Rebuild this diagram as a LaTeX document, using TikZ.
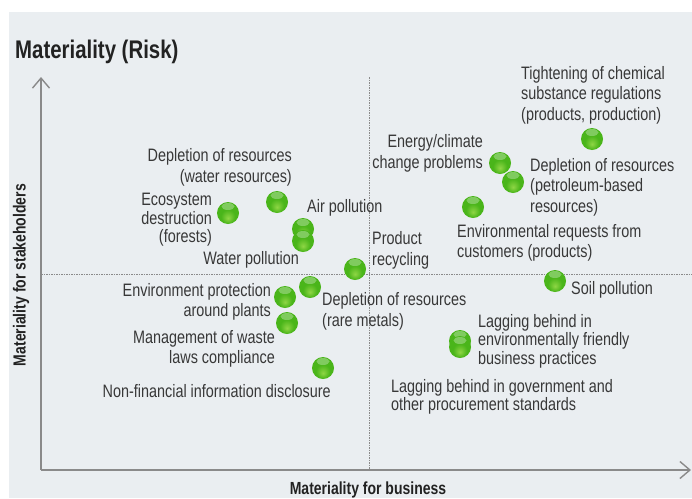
\documentclass[tikz,border=0pt]{standalone}
\usepackage{fontspec}
\setmainfont{Liberation Sans}[FakeStretch=0.8]
\usetikzlibrary{arrows.meta}
\definecolor{bgc}{HTML}{EAEEF1}
\definecolor{txt}{HTML}{383838}
\definecolor{ttl}{HTML}{222222}
\definecolor{axc}{HTML}{8A8A8A}
\definecolor{gA}{HTML}{8FD645}
\definecolor{gB}{HTML}{4AB51A}
\definecolor{gC}{HTML}{2A8A0E}
\pgfdeclareradialshading{gball}{\pgfpoint{0bp}{-12bp}}{color(0bp)=(gA); color(16bp)=(gB); color(38bp)=(gB); color(50bp)=(gC)}
\begin{document}
\begin{tikzpicture}[x=1pt,y=-1pt,
  lbl/.style={inner sep=0pt, text=txt, font=\fontsize{18}{20.5}\selectfont},
  lbltight/.style={inner sep=0pt, text=txt, font=\fontsize{18}{18.5}\selectfont},
  axlbl/.style={inner sep=0pt, text=ttl, font=\fontsize{17.5}{20}\selectfont\bfseries},
  gdot/.style={circle, minimum size=22pt, inner sep=0pt, shading=gball,
    path picture={\fill[white,opacity=0.3] ([yshift=6.5pt]path picture bounding box.center) ellipse (6.5pt and 3.5pt);}},
  axline/.style={axc, line width=1.6pt, -{Straight Barb[length=10pt,width=17pt,line width=1.4pt]}},
  dline/.style={axc, line width=0.9pt, dash pattern=on 1.5pt off 1pt}]
\useasboundingbox (0,0) rectangle (692,498);
\fill[bgc] (9,12) rectangle (692,498);
% axes
\coordinate (O) at (41,470);
\coordinate (ytop) at (41,77);
\coordinate (xend) at (691,470);
\coordinate (vd1) at (369,77);
\coordinate (vd2) at (369,470);
\coordinate (hd1) at (41,274);
\coordinate (hd2) at (692,274);
\draw[dline] (vd1) -- (vd2);
\draw[dline] (hd1) -- (hd2);
\draw[axline] (O) -- (ytop);
\draw[axline] (O) -- (xend);
% titles
\node[inner sep=0pt, text=ttl, font=\fontsize{25.5}{28}\selectfont\bfseries, anchor=west] (title) at (15,52) {Materiality (Risk)};
\node[axlbl] (xlab) at (368,490) {Materiality for business};
\node[axlbl, rotate=90] (ylab) at (21,275) {Materiality for stakeholders};
% dots
\node[gdot] (d1) at (592,139) {};
\node[gdot] (d2) at (500,163) {};
\node[gdot] (d3) at (513,182) {};
\node[gdot] (d4) at (473,207) {};
\node[gdot] (d5) at (277,202) {};
\node[gdot] (d6) at (228,213) {};
\node[gdot] (d7) at (303,229) {};
\node[gdot] (d8) at (303,241) {};
\node[gdot] (d9) at (355,269) {};
\node[gdot] (d10) at (555,281) {};
\node[gdot] (d11) at (310,287) {};
\node[gdot] (d12) at (285,297) {};
\node[gdot] (d13) at (287,323) {};
\node[gdot] (d14) at (323,368) {};
\node[gdot] (d15) at (460,341) {};
\node[gdot] (d16) at (460,347) {};
% labels
\node[lbl, align=left, anchor=west] (t1) at (521,95) {Tightening of chemical\\substance regulations\\(products, production)};
\node[lbl, align=right, anchor=east] (t2) at (483,153.5) {Energy/climate\\change problems};
\node[lbl, align=left, anchor=west] (t3) at (530,187) {Depletion of resources\\(petroleum-based\\resources)};
\node[lbl, align=left, anchor=west] (t4) at (457,243) {Environmental requests from\\customers (products)};
\node[lbl, align=right, anchor=east] (t5) at (292,167.5) {Depletion of resources\\(water resources)};
\node[lbltight, align=right, anchor=east] (t6) at (212,220) {Ecosystem\\destruction\\(forests)};
\node[lbl, anchor=west] (t7) at (307,208) {Air pollution};
\node[lbl, anchor=east] (t8) at (299,260) {Water pollution};
\node[lbl, align=left, anchor=west] (t9) at (372,250.5) {Product\\recycling};
\node[lbl, anchor=west] (t10) at (571,290) {Soil pollution};
\node[lbl, align=left, anchor=west] (t11) at (322,311.5) {Depletion of resources\\(rare metals)};
\node[lbl, align=right, anchor=east] (t12) at (271,302) {Environment protection\\around plants};
\node[lbl, align=right, anchor=east] (t13) at (275,349) {Management of waste\\laws compliance};
\node[lbl, anchor=east] (t14) at (331,391) {Non-financial information disclosure};
\node[lbltight, align=left, anchor=west] (t15) at (478,341) {Lagging behind in\\environmentally friendly\\business practices};
\node[lbltight, align=left, anchor=west] (t16) at (391,397) {Lagging behind in government and\\other procurement standards};
\end{tikzpicture}
\end{document}
